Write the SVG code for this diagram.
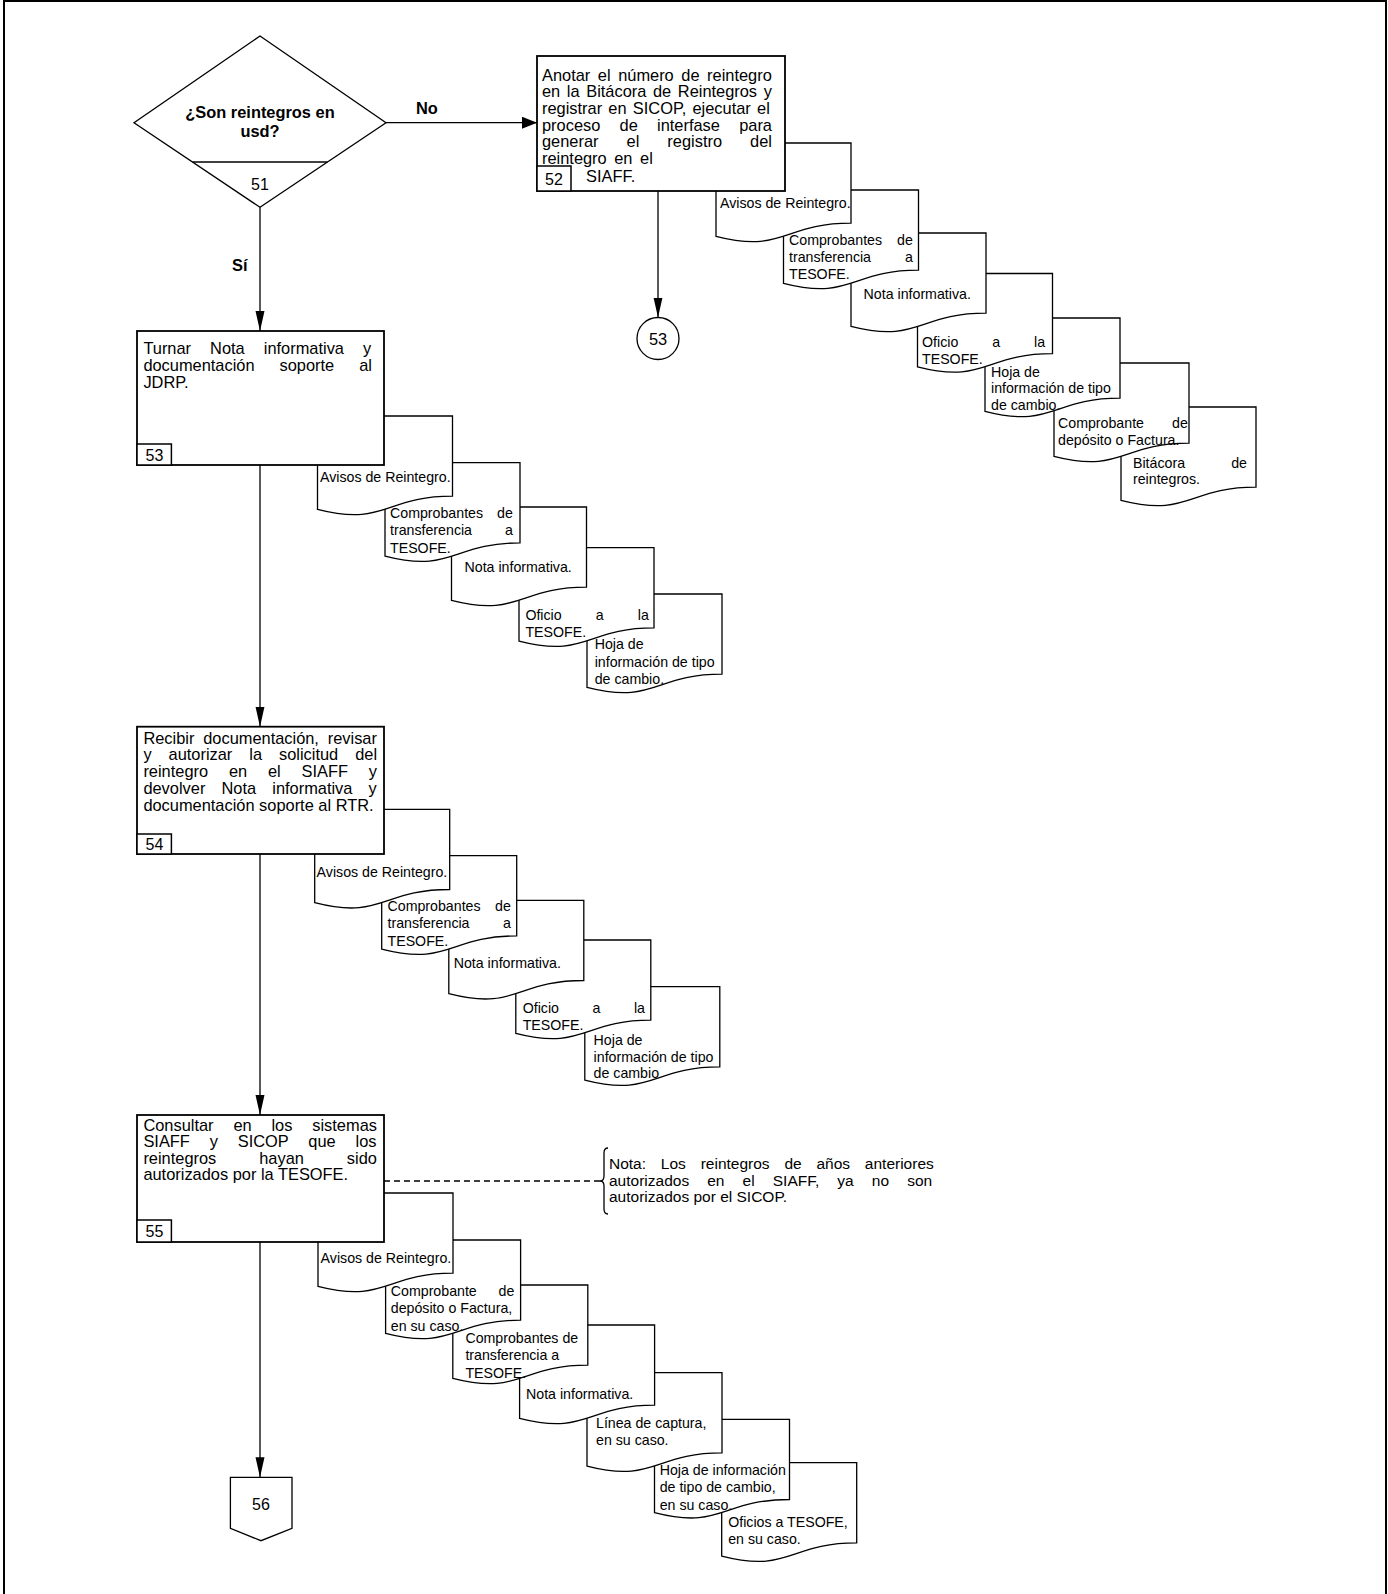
<svg xmlns="http://www.w3.org/2000/svg" xmlns:xlink="http://www.w3.org/1999/xlink" width="1388" height="1594" viewBox="0 0 1388 1594">
<style>
.t{font-family:"Liberation Sans",Arial,sans-serif;font-size:16.4px;fill:#000}
.td{font-family:"Liberation Sans",Arial,sans-serif;font-size:14.2px;fill:#000}
.tn{font-family:"Liberation Sans",Arial,sans-serif;font-size:15.5px;fill:#000}
.num{font-size:16px}
.b{font-weight:bold}
.mid{text-anchor:middle}
.box{fill:#fff;stroke:#000;stroke-width:1.8}
.nbox{fill:#fff;stroke:#000;stroke-width:1.5}
.shape{fill:#fff;stroke:#000;stroke-width:1.3}
.doc{fill:#fff;stroke:#000;stroke-width:1.3}
.conn{fill:none;stroke:#000;stroke-width:1.3}
.dash{fill:none;stroke:#000;stroke-width:1.3;stroke-dasharray:6,4}
</style>
<defs>
<marker id="arrV" markerUnits="userSpaceOnUse" markerWidth="21" markerHeight="10" refX="20" refY="4.5" orient="auto"><path d="M0,0 L20,4.5 L0,9 Z" fill="#000"/></marker>
<marker id="arrH" markerUnits="userSpaceOnUse" markerWidth="16" markerHeight="13" refX="15" refY="6" orient="auto"><path d="M0,0 L15,6 L0,12 Z" fill="#000"/></marker>
<path id="docshape" d="M0,0 H135 V80.2 C67.5,80.2 67.5,110.75 0,93.4 Z"/>
</defs>
<rect width="1388" height="1594" fill="#fff"/>
<path id="page-border" d="M4,1594 V1 H1386 V1594" fill="none" stroke="#000" stroke-width="2"/>

<g id="connectors">
<line class="conn" x1="386" y1="122.7" x2="537" y2="122.7" marker-end="url(#arrH)"/>
<text class="t b" x="416" y="113.5">No</text>
<line class="conn" x1="260" y1="207.3" x2="260" y2="331" marker-end="url(#arrV)"/>
<text class="t b" x="232" y="271">Sí</text>
<line class="conn" x1="658" y1="191" x2="658" y2="317.5" marker-end="url(#arrV)"/>
<line class="conn" x1="260" y1="465" x2="260" y2="726.7" marker-end="url(#arrV)"/>
<line class="conn" x1="260" y1="854" x2="260" y2="1115" marker-end="url(#arrV)"/>
<line class="conn" x1="260" y1="1242" x2="260" y2="1477.3" marker-end="url(#arrV)"/>
<line class="dash" x1="384" y1="1181" x2="600" y2="1181"/>
</g>

<g id="node-51">
<polygon class="shape" points="260,36 386,122.7 260,207.3 134,122.7"/>
<line class="shape" x1="192.5" y1="162" x2="327.5" y2="162"/>
<text class="t b mid" x="260" y="117.5">¿Son reintegros en</text>
<text class="t b mid" x="260" y="137">usd?</text>
<text class="t mid num" x="260" y="190">51</text>
</g>

<!-- stack for 52 (drawn last-to-first) -->
<g id="doc-52-7"><use href="#docshape" x="1121" y="407" class="doc"/>
<text class="td" x="1133" y="467.7" style="word-spacing:42.2px">Bitácora de</text>
<text class="td" x="1133" y="484.3">reintegros.</text></g>
<g id="doc-52-6"><use href="#docshape" x="1054" y="363" class="doc"/>
<text class="td" x="1058" y="428.3" style="word-spacing:24.2px">Comprobante de</text>
<text class="td" x="1058" y="445">depósito o Factura.</text></g>
<g id="doc-52-5"><use href="#docshape" x="985" y="318" class="doc"/>
<text class="td" x="991" y="376.7">Hoja de</text>
<text class="td" x="991" y="393.3">información de tipo</text>
<text class="td" x="991" y="410.3">de cambio.</text></g>
<g id="doc-52-4"><use href="#docshape" x="917.5" y="273.5" class="doc"/>
<text class="td" x="922" y="347" style="word-spacing:30px">Oficio a la</text>
<text class="td" x="922" y="364">TESOFE.</text></g>
<g id="doc-52-3"><use href="#docshape" x="851" y="233" class="doc"/>
<text class="td" x="863.6" y="299">Nota informativa.</text></g>
<g id="doc-52-2"><use href="#docshape" x="783.5" y="190" class="doc"/>
<text class="td" x="789" y="245" style="word-spacing:11.1px">Comprobantes de</text>
<text class="td" x="789" y="262.3" style="word-spacing:30.1px">transferencia a</text>
<text class="td" x="789" y="279.3">TESOFE.</text></g>
<g id="doc-52-1"><use href="#docshape" x="716" y="143" class="doc"/>
<text class="td" x="720" y="208.3">Avisos de Reintegro.</text></g>
<g id="node-52">
<rect class="box" x="537" y="56" width="248" height="135"/>
<rect class="nbox" x="537" y="166" width="34" height="25"/>
<text class="t mid num" x="554" y="184.5">52</text>
<text class="t" x="542" y="80.5" style="word-spacing:3px">Anotar el número de reintegro</text>
<text class="t" x="542" y="97" style="word-spacing:2.06px">en la Bitácora de Reintegros y</text>
<text class="t" x="542" y="114" style="word-spacing:1.68px">registrar en SICOP, ejecutar el</text>
<text class="t" x="542" y="130.5" style="word-spacing:14.7px">proceso de interfase para</text>
<text class="t" x="542" y="147.3" style="word-spacing:23.5px">generar el registro del</text>
<text class="t" x="542" y="164" style="word-spacing:3px">reintegro en el</text>
<text class="t" x="586" y="181.5">SIAFF.</text>
</g>
<g id="node-53-connector">
<circle class="shape" cx="658" cy="338.5" r="21"/>
<text class="t mid" x="658" y="344.5">53</text>
</g>

<!-- stack for 53 -->
<g id="doc-53-5"><use href="#docshape" x="587" y="594" class="doc"/>
<text class="td" x="594.7" y="649">Hoja de</text>
<text class="td" x="594.7" y="666.7">información de tipo</text>
<text class="td" x="594.7" y="684">de cambio.</text></g>
<g id="doc-53-4"><use href="#docshape" x="519" y="547.7" class="doc"/>
<text class="td" x="525.4" y="620.3" style="word-spacing:30.2px">Oficio a la</text>
<text class="td" x="525.4" y="637.3">TESOFE.</text></g>
<g id="doc-53-3"><use href="#docshape" x="451.5" y="507" class="doc"/>
<text class="td" x="464.5" y="572.3">Nota informativa.</text></g>
<g id="doc-53-2"><use href="#docshape" x="385" y="462.7" class="doc"/>
<text class="td" x="390" y="518.3" style="word-spacing:10.1px">Comprobantes de</text>
<text class="td" x="390" y="535" style="word-spacing:29.1px">transferencia a</text>
<text class="td" x="390" y="552.5">TESOFE.</text></g>
<g id="doc-53-1"><use href="#docshape" x="317.5" y="416" class="doc"/>
<text class="td" x="320" y="481.7">Avisos de Reintegro.</text></g>
<g id="node-53">
<rect class="box" x="137" y="331" width="247" height="134"/>
<rect class="nbox" x="137" y="444" width="34.4" height="21"/>
<text class="t mid num" x="154.5" y="460.5">53</text>
<text class="t" x="143.4" y="354" style="word-spacing:14.5px">Turnar Nota informativa y</text>
<text class="t" x="143.4" y="371" style="word-spacing:20.4px">documentación soporte al</text>
<text class="t" x="143.4" y="388">JDRP.</text>
</g>

<!-- stack for 54 -->
<g id="doc-54-5"><use href="#docshape" x="584.8" y="986.7" class="doc"/>
<text class="td" x="593.6" y="1045">Hoja de</text>
<text class="td" x="593.6" y="1061.7">información de tipo</text>
<text class="td" x="593.6" y="1078.3">de cambio</text></g>
<g id="doc-54-4"><use href="#docshape" x="515.8" y="940" class="doc"/>
<text class="td" x="522.7" y="1013.3" style="word-spacing:29.6px">Oficio a la</text>
<text class="td" x="522.7" y="1030">TESOFE.</text></g>
<g id="doc-54-3"><use href="#docshape" x="448.8" y="900.3" class="doc"/>
<text class="td" x="453.7" y="967.7">Nota informativa.</text></g>
<g id="doc-54-2"><use href="#docshape" x="381.7" y="855.7" class="doc"/>
<text class="td" x="387.5" y="911" style="word-spacing:10.6px">Comprobantes de</text>
<text class="td" x="387.5" y="928.3" style="word-spacing:29.6px">transferencia a</text>
<text class="td" x="387.5" y="945.7">TESOFE.</text></g>
<g id="doc-54-1"><use href="#docshape" x="314.7" y="809.3" class="doc"/>
<text class="td" x="316.6" y="876.7">Avisos de Reintegro.</text></g>
<g id="node-54">
<rect class="box" x="137" y="726.7" width="247" height="127.3"/>
<rect class="nbox" x="137" y="834" width="34.4" height="20"/>
<text class="t mid num" x="154.5" y="850">54</text>
<text class="t" x="143.4" y="743.5" style="word-spacing:4.25px">Recibir documentación, revisar</text>
<text class="t" x="143.4" y="760.3" style="word-spacing:12.4px">y autorizar la solicitud del</text>
<text class="t" x="143.4" y="777" style="word-spacing:16.25px">reintegro en el SIAFF y</text>
<text class="t" x="143.4" y="794" style="word-spacing:11.6px">devolver Nota informativa y</text>
<text class="t" x="143.4" y="811">documentación soporte al RTR.</text>
</g>

<!-- stack for 55 -->
<g id="doc-55-7"><use href="#docshape" x="721.7" y="1462.7" class="doc"/>
<text class="td" x="728.2" y="1527.3">Oficios a TESOFE,</text>
<text class="td" x="728.2" y="1544.3">en su caso.</text></g>
<g id="doc-55-6"><use href="#docshape" x="654.5" y="1419.3" class="doc"/>
<text class="td" x="659.7" y="1475">Hoja de información</text>
<text class="td" x="659.7" y="1492.3">de tipo de cambio,</text>
<text class="td" x="659.7" y="1510">en su caso.</text></g>
<g id="doc-55-5"><use href="#docshape" x="587" y="1372.7" class="doc"/>
<text class="td" x="596" y="1427.7">Línea de captura,</text>
<text class="td" x="596" y="1445">en su caso.</text></g>
<g id="doc-55-4"><use href="#docshape" x="519.6" y="1325" class="doc"/>
<text class="td" x="526" y="1399">Nota informativa.</text></g>
<g id="doc-55-3"><use href="#docshape" x="452.8" y="1285" class="doc"/>
<text class="td" x="465.4" y="1343.3">Comprobantes de</text>
<text class="td" x="465.4" y="1360">transferencia a</text>
<text class="td" x="465.4" y="1377.7">TESOFE.</text></g>
<g id="doc-55-2"><use href="#docshape" x="385.6" y="1240" class="doc"/>
<text class="td" x="390.8" y="1295.7" style="word-spacing:17.8px">Comprobante de</text>
<text class="td" x="390.8" y="1313.3">depósito o Factura,</text>
<text class="td" x="390.8" y="1331">en su caso.</text></g>
<g id="doc-55-1"><use href="#docshape" x="318" y="1193" class="doc"/>
<text class="td" x="320.6" y="1263.3">Avisos de Reintegro.</text></g>
<g id="node-55">
<rect class="box" x="137" y="1115" width="247" height="127"/>
<rect class="nbox" x="137" y="1220" width="34.4" height="22"/>
<text class="t mid num" x="154.5" y="1237">55</text>
<text class="t" x="143.4" y="1130.5" style="word-spacing:15.3px">Consultar en los sistemas</text>
<text class="t" x="143.4" y="1147" style="word-spacing:15.3px">SIAFF y SICOP que los</text>
<text class="t" x="143.4" y="1163.7" style="word-spacing:38.4px">reintegros hayan sido</text>
<text class="t" x="143.4" y="1180.4">autorizados por la TESOFE.</text>
</g>

<g id="note-55">
<path class="conn" d="M608,1148 Q604,1148 604,1153 V1176 Q604,1181 600,1181 Q604,1181 604,1186 V1209 Q604,1214 608,1214"/>
<text class="tn" x="609" y="1169" style="word-spacing:10.5px">Nota: Los reintegros de años anteriores</text>
<text class="tn" x="609" y="1185.5" style="word-spacing:13.8px">autorizados en el SIAFF, ya no son</text>
<text class="tn" x="609" y="1202">autorizados por el SICOP.</text>
</g>

<g id="node-56-offpage">
<polygon class="shape" points="230.4,1477.3 292,1477.3 292,1528.3 261,1540.7 230.4,1528.3"/>
<text class="t mid num" x="261" y="1510">56</text>
</g>
</svg>
